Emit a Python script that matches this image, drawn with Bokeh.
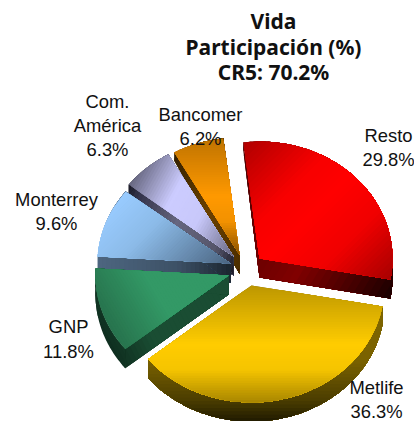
import numpy as np
from bokeh.plotting import figure
from bokeh.models import Range1d
from bokeh.core.properties import value
from bokeh.embed import file_html
from bokeh.resources import INLINE

title_lines = ["Vida", "Participación (%)", "CR5: 70.2%"]
names = ["Resto", "Metlife", "GNP", "Monterrey", "Com.\nAmérica", "Bancomer"]
shares = [29.8, 36.3, 11.8, 9.6, 6.3, 6.2]

# layout / style (page pixels)
START = -7.0
RX, RY = 133.0, 117.0
apex = [(259, 258), (251, 285), (228, 275), (230, 263), (233, 256), (239, 254)]
draw_order = [0, 5, 4, 3, 2, 1]
top_grad = [
    ((1, 1), [(0, "#B00000"), (.33, "#F80000"), (.5, "#FF0000"), (.72, "#F00000"), (1, "#A80000")]),
    ((0, 1), [(0, "#BC9600"), (.5, "#FFCC00"), (.72, "#F5C400"), (1, "#A88600")]),
    ((1, -.6), [(0, "#27734D"), (.45, "#339966"), (1, "#339966")]),
    ((1, 1), [(0, "#99CCFF"), (.35, "#8CBBE8"), (1, "#4A6480")]),
    ((1, .55), [(0, "#66667F"), (.35, "#CCCCFF"), (.62, "#C8C8FA"), (1, "#66667F")]),
    ((0, 1), [(0, "#BF7300"), (.5, "#FF9900"), (.72, "#F29100"), (1, "#855000")]),
]
wall_grad = [
    ((1, .6), [(0, "#4A0000"), (.55, "#800000"), (1, "#1A0000")]),
    ((0, 1), [(0, "#806600"), (.55, "#7A6200"), (.85, "#4A3C00"), (1, "#1F1A00")]),
    ((1, -.5), [(0, "#0F2E1F"), (.3, "#1A4D33"), (1, "#1A4D33")]),
    ((1, 0), [(0, "#4D6680"), (.6, "#3D5166"), (1, "#1C2630")]),
    ((1, .4), [(0, "#1A1A26"), (.1, "#33334A"), (.45, "#66667F"), (.8, "#55556A"), (1, "#1A1A26")]),
    ((1, .5), [(0, "#332000"), (.5, "#6B4000"), (1, "#4A2D00")]),
]
title_pos = [(273, 20), (273, 46), (273, 71)]
label_pos = [(388, 135, 24), (376, 387, 23.5), (68, 326, 25), (56, 199, 24), (107, 101, 24), (200, 114, 24)]


def hex2rgb(h):
    return np.array([int(h[i:i + 2], 16) for i in (1, 3, 5)], float)


def ramp(t, stops):
    t = min(max(t, 0), 1)
    for (a, ca), (b, cb) in zip(stops, stops[1:]):
        if t <= b:
            f = (t - a) / (b - a)
            c = hex2rgb(ca) * (1 - f) + hex2rgb(cb) * f
            return "#%02x%02x%02x" % tuple(int(round(v)) for v in c)
    return stops[-1][1]


def clip(poly, d, lim):
    out = []
    n = len(poly)
    for i in range(n):
        a, b = poly[i], poly[(i + 1) % n]
        da, db = a @ d - lim, b @ d - lim
        if da >= 0:
            out.append(a)
        if da * db < 0:
            out.append(a + (b - a) * da / (da - db))
    return out


def strips(poly, grad, lo=None, hi=None, n=48):
    # painter-style bands: every band runs to the far end, so no seams show
    d = np.array(grad[0], float)
    poly = [np.array(q, float) for q in poly]
    pr = [q @ d for q in poly]
    lo = min(pr) if lo is None else lo
    hi = max(pr) if hi is None else hi
    res = []
    for k in range(n):
        a = lo + (hi - lo) * k / n
        part = clip(poly, d, a) if k > 0 else poly
        if len(part) >= 3:
            res.append((part, ramp((k + .5) / n, grad[1])))
    return res


def depth(y):
    return float(np.clip(9 + (y - 170) / 85 * 10, 8.5, 19))


def down(q):
    return (q[0], q[1] + depth(q[1]))


xs_all, ys_all, cols = [], [], []


def push(parts):
    for part, c in parts:
        xs_all.append([float(q[0]) for q in part])
        ys_all.append([float(q[1]) for q in part])
        cols.append(c)


edges = START + np.cumsum([0] + [s * 3.6 for s in shares])
geom = []
for i in range(len(shares)):
    ang = np.radians(np.linspace(edges[i], edges[i + 1], max(int(shares[i] * 3.6), 6) + 1))
    ax, ay = apex[i]
    arc = [(ax + RX * np.sin(t), ay - RY * np.cos(t)) for t in ang]
    geom.append(((ax, ay), arc))

for i in draw_order:
    A, arc = geom[i]
    outline = [A] + arc
    wall_pts = outline + [down(q) for q in outline]
    d = np.array(wall_grad[i][0], float)
    pr = [np.array(q) @ d for q in wall_pts]
    lo, hi = min(pr), max(pr)
    for a, b in ((A, arc[0]), (arc[-1], A)):
        push(strips([a, b, down(b), down(a)], wall_grad[i], lo, hi, 30))
    push(strips(arc + [down(q) for q in arc[::-1]], wall_grad[i], lo, hi, 40))
    push(strips(outline, top_grad[i]))

p = figure(width=414, height=421, x_range=Range1d(0, 414), y_range=Range1d(421, 0),
           output_backend="svg", toolbar_location=None, min_border=0,
           background_fill_color="white")
p.axis.visible = False
p.grid.visible = False
p.outline_line_color = None
p.patches(xs_all, ys_all, fill_color=cols, line_color=None)

tx, ty, tt = [], [], []
for i, (nm, s) in enumerate(zip(names, shares)):
    x, y, lh = label_pos[i]
    for j, line in enumerate(nm.split("\n") + [f"{s}%"]):
        tx.append(x); ty.append(y + j * lh); tt.append(line)
p.text(tx, ty, text=tt, text_font=value("Liberation Sans"), text_font_size="18.4px",
       text_align="center", text_baseline="middle", text_color="#111111")
p.text([q[0] for q in title_pos], [q[1] for q in title_pos], text=title_lines,
       text_font=value("Noto Sans"), text_font_style="bold", text_font_size="21px",
       text_align="center", text_baseline="middle", text_color="#111111")

open("out.html", "w").write(file_html(p, INLINE))
